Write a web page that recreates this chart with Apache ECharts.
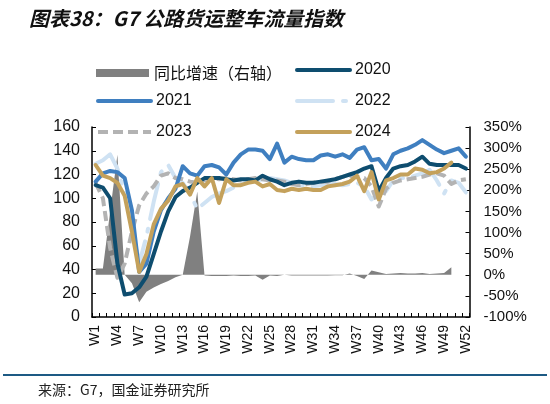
<!DOCTYPE html>
<html><head><meta charset="utf-8">
<script src="https://cdn.jsdelivr.net/npm/echarts@6/dist/echarts.min.js"></script>
<style>html,body{margin:0;padding:0;background:#fff}#c{width:550px;height:404px}</style>
</head><body><div id="c"></div>
<script>
const weeks = ['W1','W2','W3','W4','W5','W6','W7','W8','W9','W10','W11','W12','W13','W14','W15','W16','W17','W18','W19','W20','W21','W22','W23','W24','W25','W26','W27','W28','W29','W30','W31','W32','W33','W34','W35','W36','W37','W38','W39','W40','W41','W42','W43','W44','W45','W46','W47','W48','W49','W50','W51','W52'];

const yoy = [15,15,150,284,0,-20,-65,-40,-30,-22,-15,-6,0,90,197,-2,-3,-3,-3,-2,-3,-3,-2,-12,-2,-3,0,-2,-2,-2,-2,-2,-2,-1,-1,3,-3,-10,10,6,2,3,4,3,3,4,2,3,4,18];

const y2020 = [111,109,100,45,19,20,25,34,53,72,89,101,106,109,113,117,117,117,116,115,116,116,115,119,116,114,111,113,114,113,113,114,115,116,118,120,122,125,127,106,117,125,127,128,131,135,129,128,128,128,128,125];

const y2021 = [114,121,123,122,117,90,38,45,72,90,100,108,127,121,119,127,128,126,120,130,137,141,141,140,133,146,130,135,133,132,132,136,137,135,137,134,141,143,132,133,125,137,140,142,145,149,145,141,138,140,142,135];

const y2022 = [129,132,137,125,104,80,45,68,97,122,128,117,113,104,91,96,101,104,106,109,111,114,115,116,117,116,115,113,111,110,110,111,112,112,111,112,113,110,99,104,106,115,117,117,119,121,124,115,104,115,113,105];

const y2023 = [113,100,58,33,45,72,94,104,110,119,121,117,116,114,113,115,117,116,117,116,115,116,117,116,115,115,114,112,111,112,113,114,114,116,118,119,118,117,110,93,108,113,115,116,117,118,120,121,119,112,115,116];

const y2024 = [128,119,117,113,102,72,38,53,78,91,98,110,112,103,117,110,117,96,116,111,111,113,114,110,112,107,106,108,107,108,107,107,110,111,112,114,119,106,122,99,115,117,120,120,125,124,121,122,125,130];

const leftTicks = {min:0, max:160, interval:20};
const rightTicks = {min:-100, max:350, interval:50};

const C = {
  area:'#808080', c2020:'#0e4d6f', c2021:'#3f7fc0', c2022:'#cfe2f3', c2023:'#b3b3b3', c2024:'#c4a15b'
};
const LW = 4;

const chart = echarts.init(document.getElementById('c'));
const legendBase = {
  orient:'horizontal', padding:0, itemGap:0,
  itemWidth:53, itemHeight:14,
  itemStyle:{opacity:0},
  lineStyle:{width:4},
  textStyle:{fontSize:16, color:'#111', fontFamily:'Liberation Sans, Noto Sans CJK SC'}
};
function lg(name, left, top, extra){
  return Object.assign({}, legendBase, {data:[name], left:left, top:top}, extra||{});
}
chart.setOption({
  animation:false,
  backgroundColor:'#fff',
  title:{
    text:'图表38：G7 公路货运整车流量指数',
    left:24, top:3,
    textStyle:{fontSize:20, fontWeight:'bold', fontStyle:'italic', color:'#111', fontFamily:'Noto Sans CJK SC'}
  },
  legend:[
    lg('同比增速（右轴）', 96, 65, {itemHeight:8, icon:'rect', itemStyle:{opacity:1}, textStyle:{fontSize:16,color:'#111',fontFamily:'Noto Sans CJK SC'}}),
    lg('2020', 295, 62),
    lg('2021', 96, 93),
    lg('2022', 295, 93),
    lg('2023', 96, 124),
    lg('2024', 295, 124)
  ],
  grid:{left:92, right:80.5, top:127, bottom:87, containLabel:false},
  xAxis:{
    type:'category', data:weeks, boundaryGap:true,
    axisLine:{lineStyle:{color:'#000', width:1.5}},
    axisTick:{show:true, inside:true, length:4, interval:0, lineStyle:{color:'#000', width:1}},
    axisLabel:{interval:2, rotate:90, fontSize:14, color:'#111', margin:8, fontFamily:'Liberation Sans'},
    splitLine:{show:false}
  },
  yAxis:[
    {type:'value', min:leftTicks.min, max:leftTicks.max, interval:leftTicks.interval,
     axisLine:{show:true, lineStyle:{color:'#000', width:1.5}},
     axisTick:{show:true, inside:true, length:4, lineStyle:{color:'#000'}},
     axisLabel:{fontSize:16, color:'#111', margin:12, fontFamily:'Liberation Sans'},
     splitLine:{show:false}},
    {type:'value', min:rightTicks.min, max:rightTicks.max, interval:rightTicks.interval, position:'right',
     axisLine:{show:true, lineStyle:{color:'#000', width:1.5}},
     axisTick:{show:true, inside:true, length:4, lineStyle:{color:'#000'}},
     axisLabel:{fontSize:15, color:'#111', margin:14, formatter:'{value}%', fontFamily:'Liberation Sans'},
     splitLine:{show:false}}
  ],
  series:[
    {name:'同比增速（右轴）', type:'line', yAxisIndex:1, data:yoy, symbol:'none', z:1,
     itemStyle:{color:C.area}, lineStyle:{width:0, color:C.area}, areaStyle:{color:C.area, opacity:1}},
    {name:'2022', type:'line', data:y2022, symbol:'none', z:2,
     itemStyle:{color:C.c2022}, lineStyle:{width:LW, color:C.c2022, type:[36,10,3,10], cap:'round', join:'round'}},
    {name:'2023', type:'line', data:y2023, symbol:'none', z:3,
     itemStyle:{color:C.c2023}, lineStyle:{width:LW, color:C.c2023, type:[10,5], join:'round'}},
    {name:'2021', type:'line', data:y2021, symbol:'none', z:4,
     itemStyle:{color:C.c2021}, lineStyle:{width:LW, color:C.c2021, join:'round', cap:'round'}},
    {name:'2020', type:'line', data:y2020, symbol:'none', z:5,
     itemStyle:{color:C.c2020}, lineStyle:{width:LW, color:C.c2020, join:'round', cap:'round'}},
    {name:'2024', type:'line', data:y2024, symbol:'none', z:6,
     itemStyle:{color:C.c2024}, lineStyle:{width:LW, color:C.c2024, join:'round', cap:'round'}}
  ],
  graphic:[
    {type:'rect', shape:{x:3, y:374, width:544, height:2}, style:{fill:'#1d5a84'}, silent:true},
    {type:'text', left:38, top:383, style:{text:'来源：G7，国金证券研究所', fontSize:14, fill:'#222', fontFamily:'Noto Sans CJK SC'}}
  ]
});
</script>
</body></html>
